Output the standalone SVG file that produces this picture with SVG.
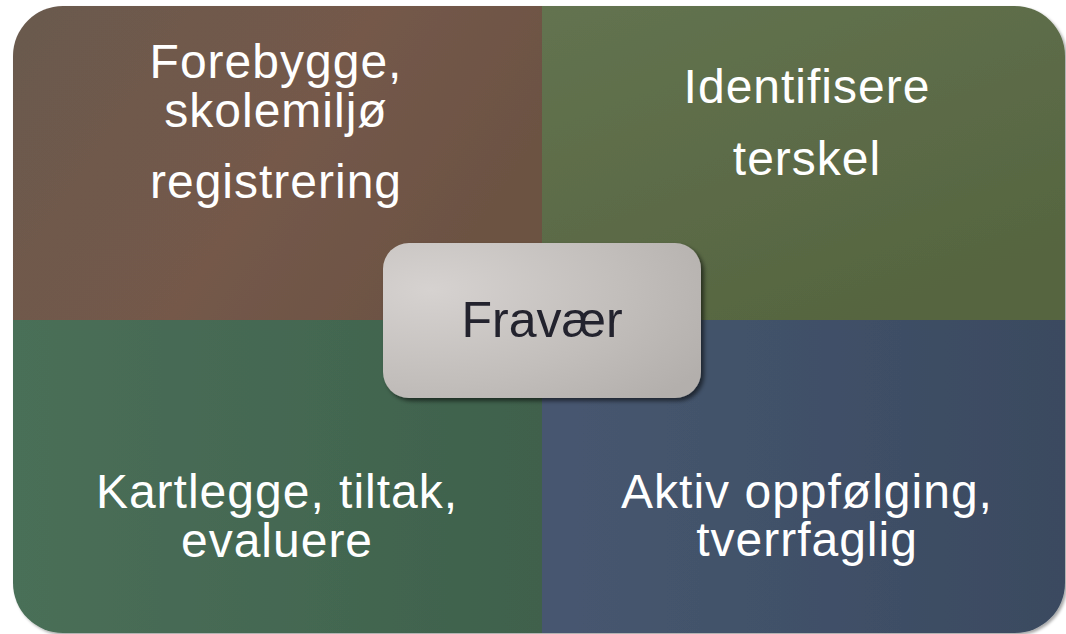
<svg xmlns="http://www.w3.org/2000/svg" width="1066" height="634" viewBox="0 0 1066 634">
<defs>
<linearGradient id="gTL" x1="0" y1="0" x2="1" y2="0.4"><stop offset="0" stop-color="#6a5a4e"/><stop offset="0.6" stop-color="#74594a"/><stop offset="1" stop-color="#6c5243"/></linearGradient>
<linearGradient id="gTR" x1="0" y1="0" x2="0.6" y2="1"><stop offset="0" stop-color="#637350"/><stop offset="1" stop-color="#566540"/></linearGradient>
<linearGradient id="gBL" x1="0" y1="0" x2="1" y2="0"><stop offset="0" stop-color="#4a6f58"/><stop offset="1" stop-color="#3f614c"/></linearGradient>
<linearGradient id="gBR" x1="0" y1="0" x2="1" y2="0"><stop offset="0" stop-color="#475770"/><stop offset="1" stop-color="#3a4a60"/></linearGradient>
<radialGradient id="gC" cx="0.15" cy="0.3" r="1"><stop offset="0" stop-color="#d6d2d0"/><stop offset="0.6" stop-color="#c2bebb"/><stop offset="1" stop-color="#b3afac"/></radialGradient>
<filter id="sh" x="-10%" y="-10%" width="125%" height="130%"><feDropShadow dx="3" dy="3" stdDeviation="2" flood-color="#000" flood-opacity="0.55"/></filter>
<filter id="osh" x="-5%" y="-5%" width="110%" height="110%"><feDropShadow dx="2" dy="2" stdDeviation="1.5" flood-color="#000" flood-opacity="0.35"/></filter>
</defs>
<style>
.q{font-family:"Liberation Sans",Arial,sans-serif;font-size:48px;fill:#ffffff;text-anchor:middle;letter-spacing:1px}
.c{font-family:"Liberation Sans",Arial,sans-serif;font-size:50px;fill:#23232e;text-anchor:middle}
</style>
<rect width="1066" height="634" fill="#ffffff"/>
<g filter="url(#osh)">
<g id="q-tl"><path d="M13,56 A50,50 0 0 1 63,6 L542,6 L542,320 L13,320 Z" fill="url(#gTL)"/></g>
<g id="q-tr"><path d="M542,6 L1015,6 A50,50 0 0 1 1065,56 L1065,320 L542,320 Z" fill="url(#gTR)"/></g>
<g id="q-bl"><path d="M13,320 L542,320 L542,633 L63,633 A50,50 0 0 1 13,583 Z" fill="url(#gBL)"/></g>
<g id="q-br"><path d="M542,320 L1065,320 L1065,583 A50,50 0 0 1 1015,633 L542,633 Z" fill="url(#gBR)"/></g>
</g>
<g id="t-tl"><text class="q" x="276" y="78">Forebygge,</text><text class="q" x="276" y="127">skolemiljø</text><text class="q" x="276" y="198">registrering</text></g>
<g id="t-tr"><text class="q" x="807" y="103">Identifisere</text><text class="q" x="807" y="175">terskel</text></g>
<g id="t-bl"><text class="q" x="277" y="508">Kartlegge, tiltak,</text><text class="q" x="277" y="557">evaluere</text></g>
<g id="t-br"><text class="q" x="807" y="508">Aktiv oppfølging,</text><text class="q" x="807" y="556">tverrfaglig</text></g>
<g id="connectors"></g>
<g id="center"><rect x="383" y="243" width="318" height="155" rx="26" fill="url(#gC)" filter="url(#sh)"/><text class="c" x="542" y="337">Fravær</text></g>
</svg>
